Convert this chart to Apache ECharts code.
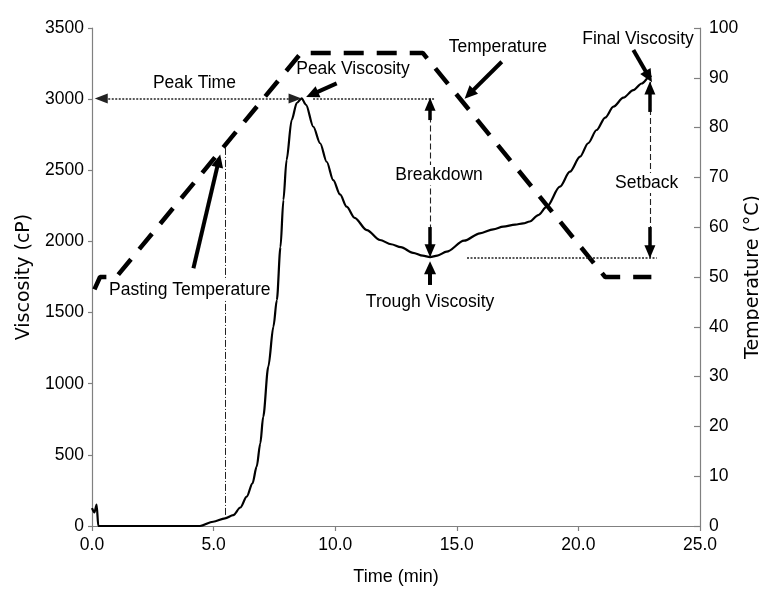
<!DOCTYPE html>
<html><head><meta charset="utf-8">
<script src="https://cdn.jsdelivr.net/npm/echarts@6/dist/echarts.min.js"></script>
<style>html,body{margin:0;padding:0;background:#fff}#c{width:759px;height:589px}</style>
</head><body><div id="c"></div>
<script>
// ---- data ----
const viscTime = [0, 0.1, 0.19, 0.26, 1.0, 2.0, 3.0, 4.0, 4.44, 4.98, 5.47, 5.81, 6.1, 6.36, 6.6, 6.77, 6.92, 7.04, 7.25, 7.46, 7.6, 7.75, 7.87, 8.0, 8.21, 8.42, 8.62, 8.8, 9.1, 9.38, 9.65, 9.92, 10.2, 10.47, 10.8, 11.3, 11.84, 12.3, 12.7, 13.2, 13.6, 13.9, 14.2, 14.58, 15.3, 15.95, 16.5, 16.91, 17.4, 17.73, 18.0, 18.35, 18.7, 19.24, 19.65, 20.07, 20.4, 20.75, 21.1, 21.44, 21.85, 22.26, 22.6, 22.94, 23.0];
const viscValues = [125, 95, 150, 0, 0, 0, 0, 0, 0, 30, 54, 77, 130, 206, 300, 417, 580, 768, 1120, 1401, 1588, 1960, 2291, 2572, 2853, 2973, 3005, 2960, 2806, 2690, 2560, 2431, 2330, 2244, 2165, 2080, 2010, 1980, 1960, 1920, 1900, 1890, 1900, 1928, 2005, 2057, 2085, 2104, 2118, 2127, 2140, 2185, 2244, 2385, 2490, 2596, 2690, 2783, 2870, 2947, 3010, 3064, 3110, 3160, 3165];
const tempTime = [0.1, 0.33, 1.0, 8.6, 13.6, 21.1, 23.0];
const tempValues = [47.5, 50, 50, 95, 95, 50, 50];
const xTicks = [0, 5, 10, 15, 20, 25];
const viscTicks = [0, 500, 1000, 1500, 2000, 2500, 3000, 3500];
const tempTicks = [0, 10, 20, 30, 40, 50, 60, 70, 80, 90, 100];

// annotation texts (anchor in time / cP units)
const noteText = ['Peak Time', 'Peak Viscosity', 'Temperature', 'Final Viscosity', 'Breakdown', 'Setback', 'Trough Viscosity', 'Pasting Temperature'];
const noteTime = [4.21, 10.73, 16.69, 22.45, 14.27, 22.81, 13.9, 4.02];
const noteVisc = [3113, 3212, 3366, 3423, 2467, 2411, 1574, 1659];

// ---- rendering ----
const FONT = "'Liberation Sans', Arial, sans-serif";
const AX = '#808080';
const chart = echarts.init(document.getElementById('c'), null, {renderer: 'canvas'});

const zip = (a, b) => a.map((v, i) => [v, b[i]]);

const thinDot = {color: '#222', width: 1.5, type: [2, 1.5]};
const thinDash = {color: '#222', width: 1.1, type: [6, 3]};
const thinDashDot = {color: '#222', width: 1, type: [7, 2, 1, 2]};
const thick = {color: '#000', width: 4, type: 'solid'};
const thickShaft = {color: '#000', width: 3.5, type: 'solid'};

function seg(p1, p2, style, s1, s2, size) {
  return [
    {coord: p1, symbol: s1 || 'none', symbolSize: size || [10, 12], lineStyle: style},
    {coord: p2, symbol: s2 || 'none', symbolSize: size || [10, 12]}
  ];
}

const peakT = 8.62, peakV = 3005, troughT = 13.9, troughV = 1890, finT = 22.94;

const lines = [
  seg([0.38, peakV], [8.35, peakV], thinDot, 'triangle', 'triangle', [10, 13]),
  seg([9.09, peakV], [14.1, peakV], thinDot),
  seg([troughT, peakV], [troughT, troughV], thinDash),
  seg([troughT, 2853], [troughT, 2964], thickShaft, 'none', 'triangle', [11, 13]),
  seg([troughT, 2101], [troughT, 1935], thickShaft, 'none', 'triangle', [11, 13]),
  seg([15.42, 1886], [23.22, 1886], thinDot),
  seg([finT, 3120], [finT, 1886], thinDash),
  seg([finT, 2910], [finT, 3078], thickShaft, 'none', 'triangle', [11, 13]),
  seg([finT, 2101], [finT, 1928], thickShaft, 'none', 'triangle', [11, 13]),
  seg([5.47, 2657], [5.47, 54], thinDashDot),
  seg([10.06, 3111], [9.05, 3034], thick, 'none', 'triangle', [12, 13]),
  seg([16.85, 3263], [15.51, 3035], thick, 'none', 'triangle', [12, 13]),
  seg([22.26, 3345], [22.89, 3159], thick, 'none', 'triangle', [12, 13]),
  seg([4.17, 1811], [5.21, 2567], thick, 'none', 'triangle', [12, 13]),
  seg([troughT, 1694], [troughT, 1815], thick, 'none', 'triangle', [12, 13])
];

const whiteBg = {'Breakdown': true, 'Setback': true, 'Pasting Temperature': true};
const points = noteText.map((t, i) => ({
  name: t,
  coord: [noteTime[i], noteVisc[i]],
  label: whiteBg[t] ? {backgroundColor: '#fff', padding: [1, 1]} : {}
}));

const option = {
  animation: false,
  backgroundColor: '#fff',
  grid: {left: 92, right: 59, top: 28, bottom: 63, containLabel: false, outerBoundsMode: 'none'},
  xAxis: {
    type: 'value', min: xTicks[0], max: xTicks[xTicks.length - 1], interval: 5,
    name: 'Time (min)', nameLocation: 'middle', nameGap: 42, nameMoveOverlap: false,
    nameTextStyle: {color: '#000', fontSize: 18, fontFamily: FONT},
    axisLine: {show: true, lineStyle: {color: AX, width: 1.2}},
    axisTick: {show: true, inside: false, length: 5, lineStyle: {color: AX, width: 1.2}},
    axisLabel: {color: '#000', fontSize: 17.5, fontFamily: FONT, margin: 10, formatter: v => v.toFixed(1), showMinLabel: true, showMaxLabel: true},
    splitLine: {show: false}
  },
  yAxis: [{
    type: 'value', min: viscTicks[0], max: viscTicks[viscTicks.length - 1], interval: 500, position: 'left',
    name: 'Viscosity (cP)', nameLocation: 'middle', nameGap: 58, nameRotate: 90, nameMoveOverlap: false,
    nameTextStyle: {color: '#000', fontSize: 19, fontFamily: "'DejaVu Sans', sans-serif"},
    axisLine: {show: true, onZero: false, lineStyle: {color: AX, width: 1.2}},
    axisTick: {show: true, inside: false, length: 4, lineStyle: {color: AX, width: 1.2}},
    axisLabel: {color: '#000', fontSize: 17.5, fontFamily: FONT, margin: 8, formatter: v => String(v), showMinLabel: true, showMaxLabel: true},
    splitLine: {show: false}
  }, {
    type: 'value', min: tempTicks[0], max: tempTicks[tempTicks.length - 1], interval: 10, position: 'right',
    name: 'Temperature (°C)', nameLocation: 'middle', nameGap: 44, nameRotate: 90, nameMoveOverlap: false,
    nameTextStyle: {color: '#000', fontSize: 19, fontFamily: "'DejaVu Sans', sans-serif"},
    axisLine: {show: true, onZero: false, lineStyle: {color: AX, width: 1.2}},
    axisTick: {show: true, inside: true, length: 6, lineStyle: {color: AX, width: 1.2}},
    axisLabel: {color: '#000', fontSize: 17.5, fontFamily: FONT, margin: 9, formatter: v => String(v), showMinLabel: true, showMaxLabel: true},
    splitLine: {show: false}
  }],
  series: [{
    name: 'Viscosity', type: 'line', yAxisIndex: 0, data: zip(viscTime, viscValues),
    showSymbol: false, symbol: 'none', smooth: 0.3, smoothMonotone: 'x', clip: false,
    lineStyle: {color: '#000', width: 2.2}, z: 3
  }, {
    name: 'Temperature', type: 'line', yAxisIndex: 1, data: zip(tempTime, tempValues),
    showSymbol: false, symbol: 'none', clip: false,
    lineStyle: {color: '#000', width: 4.5, type: [20, 13], cap: 'butt'}, z: 3
  }, {
    name: 'annotations', type: 'line', yAxisIndex: 0, data: [], z: 4,
    markLine: {silent: true, animation: false, label: {show: false}, emphasis: {disabled: true},
      symbol: ['none', 'none'], data: lines, z: 4}
  }, {
    name: 'labels', type: 'line', yAxisIndex: 0, data: [], z: 10,
    markPoint: {silent: true, animation: false, symbol: 'circle', symbolSize: 1,
      itemStyle: {color: 'rgba(0,0,0,0)'},
      label: {show: true, position: 'inside', formatter: '{b}', color: '#000', fontSize: 17.5, fontFamily: FONT},
      emphasis: {disabled: true},
      data: points, z: 10}
  }]
};
chart.setOption(option);
</script>
</body></html>
